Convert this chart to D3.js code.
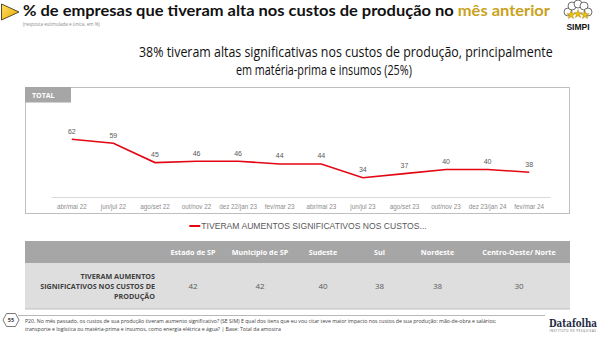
<!DOCTYPE html>
<html>
<head>
<meta charset="utf-8">
<script src="https://cdn.jsdelivr.net/npm/d3@7"></script>
<style>
  body { margin: 0; background: #fff; }
  svg { display: block; }
  text { font-family: "Open Sans", "Noto Sans", sans-serif; }
</style>
</head>
<body>
<svg id="chart"></svg>
<script>
// chart data
const periods = ["abr/mai 22", "jun/jul 22", "ago/set 22", "out/nov 22", "dez 22/jan 23", "fev/mar 23",
  "abr/mai 23", "jun/jul 23", "ago/set 23", "out/nov 23", "dez 23/jan 24", "fev/mar 24"];
const totalValues = [62, 59, 45, 46, 46, 44, 44, 34, 37, 40, 40, 38];
const regions = ["Estado de  SP", "Município de SP", "Sudeste", "Sul", "Nordeste", "Centro-Oeste/ Norte"];
const regionValues = [42, 42, 40, 38, 38, 30];
const seriesName = "TIVERAM AUMENTOS SIGNIFICATIVOS NOS CUSTOS...";
const rowLabel = ["TIVERAM AUMENTOS", "SIGNIFICATIVOS NOS CUSTOS DE", "PRODUÇÃO"];

const width = 600;
const height = 337;
const red = "#e30613";

const svg = d3.select("#chart").attr("width", width).attr("height", height);

// text squeezed horizontally into a given width, starting at x0
function fitted(x0, y0, w) {
  const g = svg.append("g");
  const t = g.append("text").attr("x", 0).attr("y", y0);
  return {
    g: g,
    text: t,
    done(total) {
      const k = w / (total || t.node().getComputedTextLength());
      g.attr("transform", `translate(${x0},0) scale(${k},1)`);
    }
  };
}

// Title arrow
const grad = svg.append("defs").append("linearGradient").attr("id", "arrowGrad")
  .attr("x1", 0).attr("y1", 0).attr("x2", 1).attr("y2", 1);
grad.append("stop").attr("offset", "0%").attr("stop-color", "#ffe066");
grad.append("stop").attr("offset", "100%").attr("stop-color", "#e8a800");
svg.append("path")
  .attr("d", "M1.5,4 L19,12 L1.5,20 Z")
  .attr("fill", "url(#arrowGrad)")
  .attr("stroke", "#5a4a2a")
  .attr("stroke-width", 1);

// Title (two text pieces, second one in gold)
const titleFont = (s) => s.style("font-family", "Lato, 'Open Sans', sans-serif")
  .style("font-size", "15px").style("font-weight", "bold");
const title = fitted(23, 16.5, 527);
titleFont(title.text).attr("fill", "#111")
  .text("% de empresas que tiveram alta nos custos de produção no");
const w1 = title.text.node().getComputedTextLength() + 3.6;
const gold = titleFont(title.g.append("text")).attr("x", w1).attr("y", 16.5)
  .attr("fill", "#c9a21c")
  .text("mês anterior");
title.done(w1 + gold.node().getComputedTextLength());

svg.append("text")
  .attr("x", 23).attr("y", 25.5)
  .style("font-size", "4.6px").attr("fill", "#8c8c8c")
  .text("(resposta estimulada e única, em %)");

// SIMPI logo
const logo = svg.append("g").attr("transform", "translate(578,11)");
[[-10, 1], [-6, -5], [0, -7], [6, -5], [10, 1]].forEach(([dx, dy]) => {
  logo.append("circle").attr("cx", dx).attr("cy", dy).attr("r", 4)
    .attr("fill", "#fff").attr("stroke", "#333").attr("stroke-width", 0.7);
});
[[-7, 4], [0, 3], [7, 4]].forEach(([dx, dy]) => {
  logo.append("path")
    .attr("d", d3.symbol(d3.symbolStar, 22)())
    .attr("transform", `translate(${dx},${dy})`)
    .attr("fill", "#f2c200").attr("stroke", "#8a6d00").attr("stroke-width", 0.4);
});
logo.append("text").attr("x", 0).attr("y", 19).attr("text-anchor", "middle")
  .style("font-family", "'Liberation Sans', Arial, sans-serif")
  .style("font-size", "8.5px").style("font-weight", "bold").attr("fill", "#111").text("SIMPI");

// Heading
const h1 = fitted(139, 57, 414);
h1.text.style("font-size", "13.8px").attr("fill", "#111")
  .text("38% tiveram altas significativas nos custos de produção, principalmente");
h1.done();
const h2 = fitted(236, 75.5, 176);
h2.text.style("font-size", "13.8px").attr("fill", "#111")
  .text("em matéria-prima e insumos (25%)");
h2.done();

// Chart frame
svg.append("rect")
  .attr("x", 25.5).attr("y", 87.5).attr("width", 544).attr("height", 126)
  .attr("fill", "#fff").attr("stroke", "#bfbfbf").attr("stroke-width", 1);
svg.append("rect")
  .attr("x", 25).attr("y", 87).attr("width", 46).attr("height", 15.5)
  .attr("fill", "#a6a6a6");
svg.append("text").attr("x", 32).attr("y", 97.8)
  .style("font-size", "7px").style("font-weight", "bold").attr("fill", "#fff").text("TOTAL");

// Scales
const x = d3.scaleBand().domain(periods).range([51, 550]);
const y = d3.scaleLinear().domain([20, 80]).range([197, 114.4]);

// X axis
const xAxis = svg.append("g")
  .attr("transform", "translate(0,197)")
  .call(d3.axisBottom(x).tickSize(0).tickPadding(8));
xAxis.select(".domain").attr("stroke", "#d9d9d9");
xAxis.selectAll("text")
  .style("font-family", "'Liberation Sans', Arial, sans-serif")
  .style("font-size", "6.3px").attr("fill", "#8c8c8c");

// Line
const line = d3.line()
  .x((d, i) => x(periods[i]) + x.bandwidth() / 2)
  .y(d => y(d));
svg.append("path")
  .datum(totalValues)
  .attr("fill", "none")
  .attr("stroke", red)
  .attr("stroke-width", 1.6)
  .attr("d", line);

// Value labels
svg.append("g").selectAll("text")
  .data(totalValues)
  .join("text")
  .attr("x", (d, i) => x(periods[i]) + x.bandwidth() / 2)
  .attr("y", d => y(d) - 5.5)
  .attr("text-anchor", "middle")
  .style("font-family", "'Liberation Sans', Arial, sans-serif")
  .style("font-size", "7px").attr("fill", "#595959")
  .text(d => d);

// Legend
const legend = svg.append("g");
const legText = legend.append("text").attr("x", 12).attr("y", 229)
  .style("font-family", "'Liberation Sans', Arial, sans-serif")
  .style("font-size", "8.6px").attr("fill", "#595959").text(seriesName);
const legW = 12 + legText.node().getComputedTextLength();
legend.append("line").attr("x1", 0).attr("x2", 11).attr("y1", 226).attr("y2", 226)
  .attr("stroke", red).attr("stroke-width", 2);
legend.attr("transform", `translate(${308 - legW / 2},0)`);

// Table
const colEdges = [160, 226, 294, 352, 407, 468, 570];
const colX = d3.scaleOrdinal().domain(regions)
  .range(regions.map((r, i) => (colEdges[i] + colEdges[i + 1]) / 2));

svg.append("rect").attr("x", 25).attr("y", 241).attr("width", 545).attr("height", 22)
  .attr("fill", "#a6a6a6");
svg.append("rect").attr("x", 25).attr("y", 263).attr("width", 545).attr("height", 46)
  .attr("fill", "#dedede");
svg.append("line").attr("x1", 25).attr("x2", 570).attr("y1", 309).attr("y2", 309)
  .attr("stroke", "#bfbfbf").attr("stroke-width", 1);

svg.append("g").selectAll("text")
  .data(regions)
  .join("text")
  .attr("x", d => colX(d))
  .attr("y", 255)
  .attr("text-anchor", "middle")
  .style("font-size", "7.2px").style("font-weight", "bold").attr("fill", "#fff")
  .text(d => d);

svg.append("g").selectAll("text")
  .data(regionValues)
  .join("text")
  .attr("x", (d, i) => colX(regions[i]))
  .attr("y", 289)
  .attr("text-anchor", "middle")
  .style("font-size", "8px").attr("fill", "#595959")
  .text(d => d);

svg.append("g").selectAll("text")
  .data(rowLabel)
  .join("text")
  .attr("x", 155)
  .attr("y", (d, i) => 279 + i * 10)
  .attr("text-anchor", "end")
  .style("font-size", "7.2px").style("font-weight", "bold").attr("fill", "#404040")
  .text(d => d);

// Footer
svg.append("line").attr("x1", 18).attr("x2", 545).attr("y1", 315.5).attr("y2", 315.5)
  .attr("stroke", "#a6a6a6").attr("stroke-width", 0.8);
svg.append("path")
  .attr("d", "M3,320 L6.5,313.5 L15.5,313.5 L19,320 L15.5,326.5 L6.5,326.5 Z")
  .attr("fill", "#fff").attr("stroke", "#595959").attr("stroke-width", 0.8);
svg.append("text").attr("x", 11).attr("y", 322).attr("text-anchor", "middle")
  .style("font-size", "5.5px").style("font-weight", "bold").attr("fill", "#404040").text("55");

const f1 = fitted(25, 323.5, 472);
f1.text.style("font-size", "5.6px").attr("fill", "#404040")
  .text("P20.  No mês passado, os custos de sua produção tiveram aumento significativo? (SE SIM) E qual dos itens que eu vou citar teve maior impacto nos custos de sua produção: mão-de-obra e salários;");
f1.done();
const f2 = fitted(25, 331.5, 256);
f2.text.style("font-size", "5.6px").attr("fill", "#404040")
  .text("transporte e logística ou matéria-prima e insumos, como energia elétrica e água?  |  Base: Total da amostra");
f2.done();

const df = fitted(549, 327, 48);
df.text.style("font-family", "'DejaVu Serif', 'Liberation Serif', serif")
  .style("font-size", "11px").style("font-weight", "bold").attr("fill", "#1f2a44")
  .text("Datafolha");
df.done();
svg.append("text").attr("x", 573).attr("y", 332).attr("text-anchor", "middle")
  .style("font-size", "2.8px").attr("fill", "#555").attr("letter-spacing", "0.6px")
  .text("INSTITUTO DE PESQUISAS");
</script>
</body>
</html>
